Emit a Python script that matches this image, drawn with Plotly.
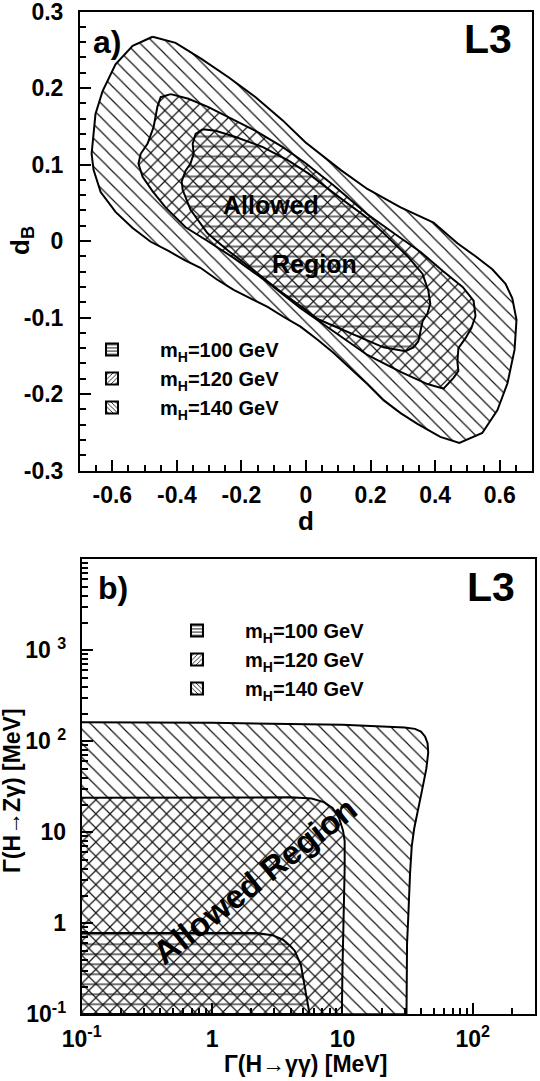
import plotly.graph_objects as go

# ---------------- panel a) data : contour boundaries (d, d_B) ----------------
d_140 = [-0.475, -0.404, -0.324, -0.240, -0.156, -0.073, -0.002, 0.107, 0.190, 0.293, 0.395,
         0.469, 0.525, 0.577, 0.618, 0.639, 0.652, 0.646, 0.624, 0.593, 0.546, 0.475,
         0.416, 0.345, 0.293, 0.240, 0.190, 0.138, 0.085, 0.036, -0.017, -0.070, -0.119,
         -0.172, -0.224, -0.277, -0.327, -0.376, -0.426, -0.481, -0.537, -0.590, -0.636,
         -0.658, -0.664, -0.652, -0.630, -0.590, -0.537, -0.475]
dB_140 = [0.267, 0.259, 0.238, 0.214, 0.188, 0.158, 0.129, 0.093, 0.068, 0.044, 0.024,
          -0.003, -0.020, -0.037, -0.056, -0.075, -0.103, -0.142, -0.186, -0.221, -0.251, -0.264,
          -0.256, -0.239, -0.225, -0.208, -0.187, -0.167, -0.146, -0.129, -0.112, -0.099, -0.086,
          -0.075, -0.064, -0.050, -0.035, -0.025, -0.013, -0.001, 0.017, 0.038, 0.064,
          0.093, 0.114, 0.166, 0.196, 0.231, 0.255, 0.267]

d_120 = [-0.419, -0.364, -0.302, -0.240, -0.156, -0.073, -0.002, 0.085, 0.190, 0.293, 0.354,
         0.423, 0.485, 0.519, 0.525, 0.512, 0.494, 0.472, 0.469, 0.472, 0.457, 0.426,
         0.376, 0.293, 0.190, 0.085, -0.017, -0.119, -0.224, -0.305, -0.373, -0.435,
         -0.475, -0.506, -0.519, -0.512, -0.491, -0.472, -0.466, -0.460, -0.450, -0.419]
dB_120 = [0.192, 0.186, 0.175, 0.162, 0.144, 0.123, 0.102, 0.073, 0.035, 0.004, -0.014,
          -0.039, -0.060, -0.078, -0.098, -0.114, -0.127, -0.140, -0.158, -0.170, -0.179, -0.193,
          -0.187, -0.171, -0.149, -0.118, -0.088, -0.054, -0.022, 0.000, 0.018, 0.044,
          0.065, 0.084, 0.101, 0.114, 0.127, 0.149, 0.162, 0.176, 0.188, 0.192]

d_100 = [-0.320, -0.280, -0.218, -0.135, -0.054, 0.008, 0.091, 0.190, 0.246, 0.317, 0.361,
         0.379, 0.385, 0.376, 0.361, 0.354, 0.348, 0.333, 0.308, 0.240, 0.138, 0.036,
         -0.017, -0.088, -0.172, -0.243, -0.305, -0.358, -0.382, -0.385, -0.373, -0.358,
         -0.348, -0.351, -0.342, -0.320]
dB_100 = [0.146, 0.144, 0.136, 0.123, 0.105, 0.088, 0.061, 0.030, 0.008, -0.021, -0.043,
          -0.065, -0.082, -0.095, -0.105, -0.118, -0.131, -0.139, -0.144, -0.139, -0.120, -0.102,
          -0.085, -0.063, -0.035, -0.012, 0.010, 0.041, 0.067, 0.078, 0.092, 0.101,
          0.114, 0.127, 0.140, 0.146]

# ---------------- panel b) data : Gamma(H->gg) vs Gamma(H->Zg) [MeV] ----------------
gg_140 = [0.1, 1, 10, 20, 30, 36, 40, 43, 45, 45.5, 44, 41, 38, 35.5, 34, 33, 32, 31.3, 31, 0.1]
zg_140 = [162, 160, 152, 146, 142, 137, 128, 113, 95, 75, 50, 30, 18, 11, 7, 3.5, 1.2, 0.6, 0.1, 0.1]

gg_120 = [0.1, 1, 4, 5.8, 7.2, 8.4, 9.4, 10.1, 10.4, 10.4, 10.2, 10.0, 9.9, 0.1]
zg_120 = [24, 24.2, 24.2, 23.5, 21.5, 18.5, 14.5, 10.5, 8, 4, 1.5, 0.3, 0.1, 0.1]

gg_100 = [0.1, 1, 2.2, 2.9, 3.5, 4.0, 4.3, 4.8, 5.1, 5.4, 5.6, 0.1]
zg_100 = [0.78, 0.79, 0.78, 0.74, 0.66, 0.56, 0.5, 0.35, 0.22, 0.14, 0.1, 0.1]

labels = ["m<sub>H</sub>=100 GeV", "m<sub>H</sub>=120 GeV", "m<sub>H</sub>=140 GeV"]
patterns = ["-", "/", "\\"]

x_ticks_a = [-0.6, -0.4, -0.2, 0, 0.2, 0.4, 0.6]
x_text_a = ["-0.6", "-0.4", "-0.2", "0", "0.2", "0.4", "0.6"]
y_ticks_a = [-0.3, -0.2, -0.1, 0, 0.1, 0.2, 0.3]
y_text_a = ["-0.3", "-0.2", "-0.1", "0", "0.1", "0.2", "0.3"]
x_ticks_b = [0.1, 1, 10, 100]
x_text_b = ["10<sup>-1</sup>", "1", "10", "10<sup>2</sup>"]
y_ticks_b = [0.1, 1, 10, 100, 1000]
y_text_b = ["10<sup>-1</sup>", "1", "10", "10 <sup>2</sup>", "10 <sup>3</sup>"]

FONT = "Liberation Sans, Arial, Helvetica, sans-serif"
W, H = 540, 1081

fig = go.Figure()

def region(x, y, shape, xa, ya):
    return go.Scatter(
        x=x, y=y, mode="lines", fill="toself",
        line=dict(color="black", width=2),
        fillcolor="rgba(0,0,0,0)",
        fillpattern=dict(shape=shape, size=10, solidity=0.12, fgcolor="#111",
                         bgcolor="rgba(0,0,0,0)", fgopacity=1),
        xaxis=xa, yaxis=ya, showlegend=False, hoverinfo="skip")

def legend_entry(shape, name, xa, ya, leg):
    # legend swatch only (no data drawn)
    return go.Bar(x=[None], y=[None], name=name, xaxis=xa, yaxis=ya, legend=leg,
                  marker=dict(color="rgba(0,0,0,0)",
                              line=dict(color="black", width=2),
                              pattern=dict(shape=shape, size=4, solidity=0.25,
                                           fgcolor="black", bgcolor="white")),
                  showlegend=True, hoverinfo="skip")

for (x, y, s) in [(d_140, dB_140, patterns[2]), (d_120, dB_120, patterns[1]),
                  (d_100, dB_100, patterns[0])]:
    fig.add_trace(region(x, y, s, "x", "y"))
for (x, y, s) in [(gg_140, zg_140, patterns[2]), (gg_120, zg_120, patterns[1]),
                  (gg_100, zg_100, patterns[0])]:
    fig.add_trace(region(x, y, s, "x2", "y2"))
for i in range(3):
    fig.add_trace(legend_entry(patterns[i], labels[i], "x", "y", "legend"))
for i in range(3):
    fig.add_trace(legend_entry(patterns[i], labels[i], "x2", "y2", "legend2"))

tickfont = dict(family=FONT, size=23, color="black", weight="bold")
common = dict(showline=True, linecolor="black", linewidth=2, mirror=True,
              ticks="inside", tickwidth=2, ticklen=11, tickcolor="black",
              showgrid=False, zeroline=False, tickfont=tickfont, automargin=False,
              ticklabeloverflow="allow")
minor_common = dict(ticks="inside", ticklen=6, tickwidth=1.5, tickcolor="black", showgrid=False)

legfont = dict(family=FONT, size=20, color="black", weight="bold")
fig.update_layout(
    template="none",
    width=W, height=H, margin=dict(l=0, r=0, t=0, b=0, pad=0),
    paper_bgcolor="white", plot_bgcolor="white",
    font=dict(family=FONT, color="black"),
    barmode="overlay",
    xaxis=dict(domain=[80 / W, 532 / W], range=[-0.7, 0.7], anchor="y",
               tickvals=x_ticks_a, ticktext=x_text_a, ticklabelstandoff=3,
               minor=dict(dtick=0.05, **minor_common), **common),
    yaxis=dict(domain=[1 - 470.5 / H, 1 - 11.5 / H], range=[-0.3, 0.3], anchor="x",
               tickvals=y_ticks_a, ticktext=y_text_a, ticklabelstandoff=10,
               minor=dict(dtick=0.02, **minor_common), **common),
    xaxis2=dict(domain=[81.7 / W, 535 / W], type="log", range=[-1, 2.477], anchor="y2",
                tickvals=x_ticks_b, ticktext=x_text_b, ticklabelstandoff=3,
                minor=dict(dtick="D1", **minor_common), **common),
    yaxis2=dict(domain=[1 - 1014.3 / H, 1 - 559.3 / H], type="log", range=[-1, 4], anchor="x2",
                tickvals=y_ticks_b, ticktext=y_text_b, ticklabelstandoff=9,
                minor=dict(dtick="D1", **minor_common), **common),
    legend=dict(x=64 / W, y=1 - 330 / H, xanchor="left", yanchor="top",
                bgcolor="rgba(0,0,0,0)", traceorder="normal", tracegroupgap=4,
                font=legfont, itemwidth=86),
    legend2=dict(x=149 / W, y=1 - 611 / H, xanchor="left", yanchor="top",
                 bgcolor="rgba(0,0,0,0)", traceorder="normal", tracegroupgap=2,
                 font=legfont, itemwidth=86),
    showlegend=True,
)

def ann(text, x, y, size, xref="paper", yref="paper", angle=0, xanchor="center", yanchor="middle"):
    fig.add_annotation(text=text, x=x, y=y, xref=xref, yref=yref, showarrow=False,
                       textangle=angle, xanchor=xanchor, yanchor=yanchor,
                       font=dict(family=FONT, size=size, color="black", weight="bold"))

# panel a labels
ann("a)", 91 / W, 1 - 22 / H, 32, xanchor="left", yanchor="top")
ann("L3", 514 / W, 1 - 14 / H, 41, xanchor="right", yanchor="top")
ann("Allowed", -0.107, 0.047, 25, xref="x", yref="y")
ann("Region", 0.026, -0.030, 25, xref="x", yref="y")
ann("d", 306 / W, 1 - 521 / H, 26)
ann("d<sub>B</sub>", 22 / W, 1 - 241 / H, 26, angle=-90)

# panel b labels
ann("b)", 96 / W, 1 - 568 / H, 32, xanchor="left", yanchor="top")
ann("L3", 517 / W, 1 - 562 / H, 41, xanchor="right", yanchor="top")
ann("Allowed Region", 0.33, 0.47, 33, xref="x2", yref="y2", angle=-38)
ann("Γ(H→γγ) [MeV]", 305 / W, 1 - 1064 / H, 23)
ann("Γ(H→Zγ) [MeV]", 12 / W, 1 - 791 / H, 23, angle=-90)

fig.write_html("out.html", config={"displayModeBar": False},
               post_script="document.body.style.margin='0';document.body.style.overflow='hidden';")
